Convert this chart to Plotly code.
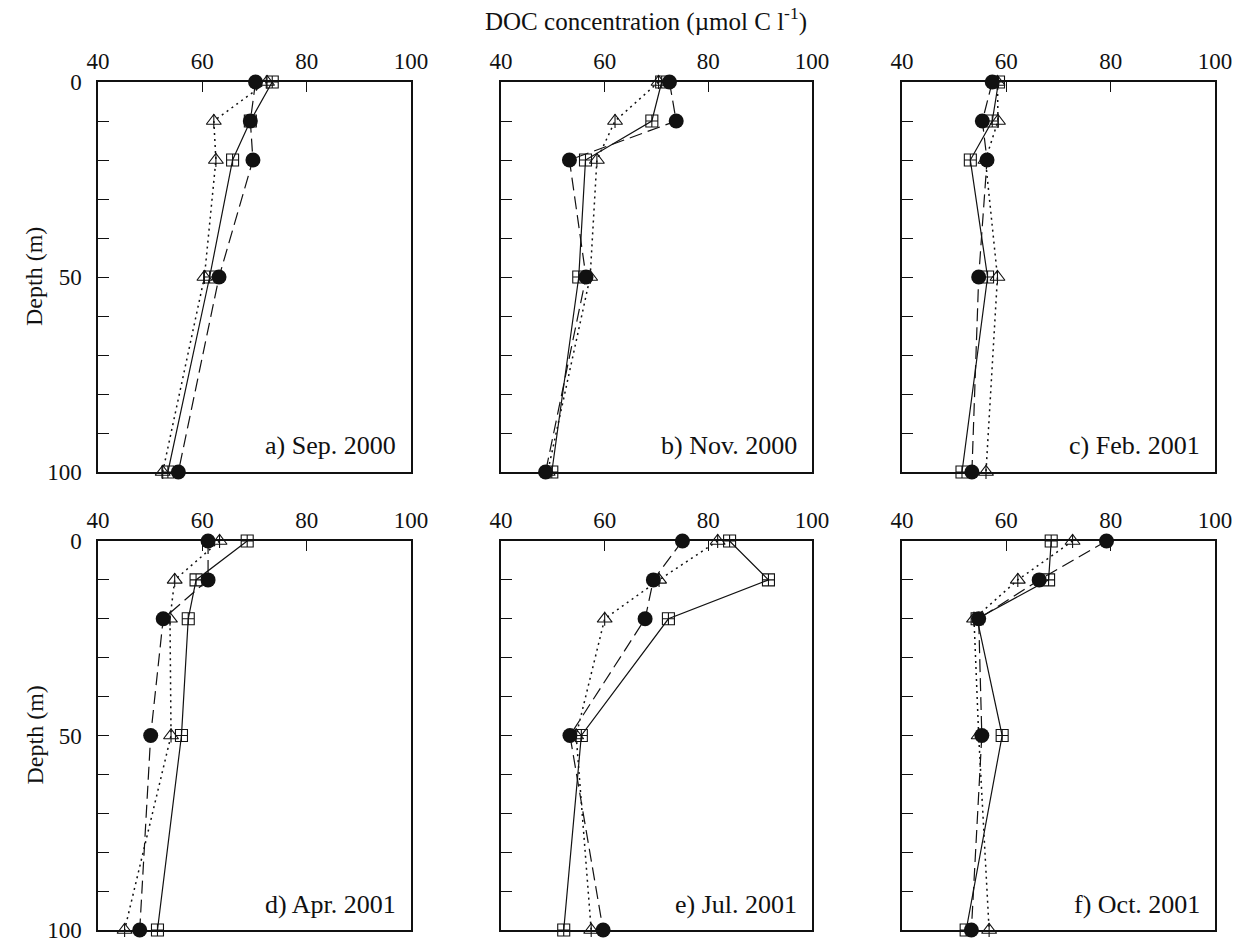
import plotly.graph_objects as go

# ---------------- data ----------------
depth_m = [0, 10, 20, 50, 100]
x_ticks = [40, 60, 80, 100]
y_ticks = [0, 50, 100]
panel_labels = ["a) Sep. 2000", "b) Nov. 2000", "c) Feb. 2001",
                "d) Apr. 2001", "e) Jul. 2001", "f) Oct. 2001"]

sep2000_circle = [70.2, 69.2, 69.7, 63.2, 55.4]
sep2000_square = [73.4, 69.2, 65.8, 61.4, 53.4]
sep2000_triangle = [72.4, 62.2, 62.6, 60.4, 52.4]

nov2000_circle = [72.5, 73.8, 53.2, 56.4, 48.6]
nov2000_square = [71.0, 69.1, 56.3, 55.0, 49.8]
nov2000_triangle = [70.4, 62.0, 58.5, 57.2, 49.0]

feb2001_circle = [57.3, 55.4, 56.3, 54.7, 53.4]
feb2001_square = [58.5, 57.3, 53.1, 56.4, 51.5]
feb2001_triangle = [58.3, 58.4, 56.0, 58.3, 56.1]

apr2001_circle = [61.1, 61.1, 52.5, 50.1, 48.0]
apr2001_square = [68.6, 58.8, 57.3, 56.0, 51.4]
apr2001_triangle = [63.3, 54.7, 53.8, 54.0, 45.1]

jul2001_circle = [75.0, 69.4, 67.8, 53.3, 59.7]
jul2001_square = [84.1, 91.6, 72.3, 55.5, 52.1]
jul2001_triangle = [81.8, 70.5, 60.0, 54.5, 57.4]

oct2001_circle = [79.2, 66.3, 54.7, 55.3, 53.3]
oct2001_square = [68.6, 68.1, 54.4, 59.2, 52.3]
oct2001_triangle = [72.7, 62.2, 53.8, 54.7, 56.7]

circles = [sep2000_circle, nov2000_circle, feb2001_circle,
           apr2001_circle, jul2001_circle, oct2001_circle]
squares = [sep2000_square, nov2000_square, feb2001_square,
           apr2001_square, jul2001_square, oct2001_square]
triangles = [sep2000_triangle, nov2000_triangle, feb2001_triangle,
             apr2001_triangle, jul2001_triangle, oct2001_triangle]

# ---------------- layout geometry (pixels) ----------------
W, H = 1238, 944
col_px = [(98, 411), (501, 812), (902, 1215)]
row_px = [(82, 472), (541, 930)]

FONT = "Liberation Serif, Times New Roman, serif"
INK = "#111111"

fig = go.Figure()
layout = dict(
    width=W, height=H, autosize=False,
    margin=dict(l=0, r=0, t=0, b=0, pad=0),
    paper_bgcolor="white", plot_bgcolor="white",
    showlegend=False,
    font=dict(family=FONT, size=23, color=INK),
)
annotations = []

for i in range(6):
    r, c = divmod(i, 3)
    k = "" if i == 0 else str(i + 1)
    xa, ya = "x" + k, "y" + k
    x0, x1 = col_px[c]
    y0, y1 = row_px[r]
    xdom = [x0 / W, x1 / W]
    ydom = [1 - y1 / H, 1 - y0 / H]

    layout["xaxis" + k] = dict(
        domain=xdom, anchor=ya, range=[40, 100], side="top",
        tickvals=x_ticks, ticks="inside", ticklen=10, tickwidth=1.2,
        tickcolor=INK, showline=True, linecolor=INK, linewidth=1.5,
        mirror=True, showgrid=False, zeroline=False, automargin=False,
        tickfont=dict(family=FONT, size=23, color=INK),
        ticklabelstandoff=2,
    )
    layout["yaxis" + k] = dict(
        domain=ydom, anchor=xa, range=[100, 0],
        tickvals=y_ticks, ticks="inside",
        ticklen=11, tickwidth=1.2, tickcolor=INK,
        minor=dict(dtick=10, tick0=0, ticks="inside", ticklen=11,
                   tickwidth=1.2, tickcolor=INK, showgrid=False),
        showline=True, linecolor=INK, linewidth=1.5, mirror=True,
        showgrid=False, zeroline=False, automargin=False,
        showticklabels=(c == 0),
        tickfont=dict(family=FONT, size=23, color=INK),
        ticklabelstandoff=10,
    )

    # solid line, squares
    fig.add_trace(go.Scatter(
        x=squares[i], y=depth_m, xaxis=xa, yaxis=ya, mode="lines+markers",
        line=dict(color=INK, width=1.2, dash="solid"),
        marker=dict(symbol="square-cross-open", size=12, color=INK,
                    line=dict(color=INK, width=1.1)),
        cliponaxis=False, name="squares"))
    # dotted line, triangles
    fig.add_trace(go.Scatter(
        x=triangles[i], y=depth_m, xaxis=xa, yaxis=ya, mode="lines+markers",
        line=dict(color=INK, width=1.5, dash="2px,4px"),
        marker=dict(symbol="triangle-up-open", size=13, color=INK,
                    line=dict(color=INK, width=1.1)),
        cliponaxis=False, name="triangles"))
    fig.add_trace(go.Scatter(
        x=triangles[i], y=depth_m, xaxis=xa, yaxis=ya, mode="markers",
        marker=dict(symbol="line-ns-open", size=10, color=INK,
                    line=dict(color=INK, width=1.1)),
        cliponaxis=False, hoverinfo="skip", name="triangles"))
    # dashed line, filled circles
    fig.add_trace(go.Scatter(
        x=circles[i], y=depth_m, xaxis=xa, yaxis=ya, mode="lines+markers",
        line=dict(color=INK, width=1.2, dash="13px,6px"),
        marker=dict(symbol="circle", size=15, color=INK,
                    line=dict(color=INK, width=0)),
        cliponaxis=False, name="circles"))

    annotations.append(dict(
        x=(x1 - 13) / W, y=1 - (y1 - 26) / H, xref="paper", yref="paper",
        text=panel_labels[i], showarrow=False, xanchor="right",
        yanchor="middle", font=dict(family=FONT, size=26, color=INK)))

for (y0, y1) in row_px:
    annotations.append(dict(
        x=34 / W, y=1 - ((y0 + y1) / 2) / H, xref="paper", yref="paper",
        text="Depth (m)", textangle=-90, showarrow=False,
        xanchor="center", yanchor="middle",
        font=dict(family=FONT, size=24, color=INK)))

annotations.append(dict(
    x=646 / W, y=1 - 20 / H, xref="paper", yref="paper",
    text="DOC concentration (µmol C l<sup>-1</sup>)", showarrow=False,
    xanchor="center", yanchor="middle",
    font=dict(family=FONT, size=25, color=INK)))

layout["annotations"] = annotations
fig.update_layout(**layout)
fig.write_html("out.html")
